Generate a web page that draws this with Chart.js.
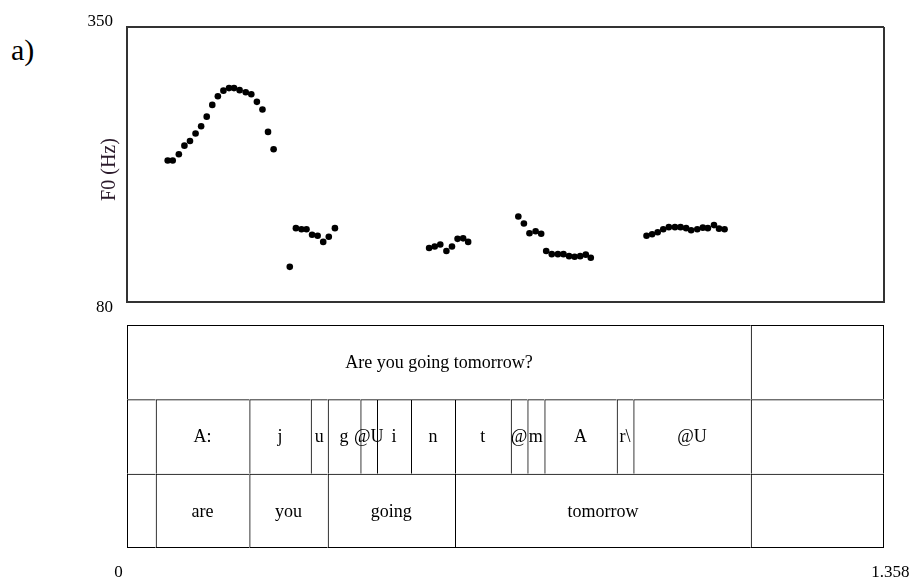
<!DOCTYPE html>
<html>
<head>
<meta charset="utf-8">
<script src="https://cdn.jsdelivr.net/npm/chart.js@4"></script>
<style>
  html, body { margin: 0; padding: 0; background: #fff; overflow: hidden; }
  #wrap { position: relative; width: 912px; height: 577px; }
  #wrap canvas { position: absolute; left: 0; top: 0; }
  #panel { position: absolute; left: 11px; top: 35px; font: 30px "Liberation Serif", "Times New Roman", serif; line-height: 30px; color: #000; }
</style>
</head>
<body>
<div id="wrap">
  <div id="panel">a)</div>
  <canvas id="f0Chart" width="912" height="577"></canvas>
  <canvas id="tierChart" width="912" height="577"></canvas>
</div>
<script>
/* F0 track (10 ms frames, five voiced stretches) + TextGrid tiers below */

const timeTicks = [0, 1.358];
const f0Ticks = [80, 350];

const frameTimes = [
  0.073, 0.082, 0.093, 0.103, 0.113, 0.123, 0.133, 0.143, 0.153, 0.163,
  0.173, 0.183, 0.192, 0.202, 0.213, 0.223, 0.233, 0.243, 0.253, 0.263,
  0.292, 0.303, 0.313, 0.322, 0.332, 0.342, 0.352, 0.362, 0.373,
  0.542, 0.552, 0.562, 0.573, 0.583, 0.593, 0.603, 0.612,
  0.702, 0.712, 0.722, 0.733, 0.743, 0.752, 0.762, 0.773, 0.783, 0.793, 0.803, 0.813, 0.823, 0.832,
  0.932, 0.942, 0.952, 0.962, 0.972, 0.983, 0.993, 1.003, 1.012, 1.023, 1.033, 1.042, 1.053, 1.062, 1.072
];
const f0Values = [
  219, 219, 225, 233.5, 238, 245.5, 252.5, 262, 273.5, 282,
  287.5, 290, 290, 288, 286, 284, 276.5, 269, 247, 230,
  114.5, 152.5, 151.5, 151.5, 146, 145, 139, 144, 152.5,
  133, 134.5, 136.5, 130, 134.5, 142, 142.5, 139,
  164, 157, 147.5, 149.5, 147, 130, 127, 127, 127, 125, 124.5, 125, 126.5, 123.5,
  145, 146.5, 148.5, 151.5, 153.5, 153.5, 153.5, 152.5, 150.5, 151.5, 153, 152.5, 155.5, 152, 151.5
];

const tierNames = ['sentence', 'phones', 'words'];
const sentenceBounds = [0, 1.119, 1.358];
const sentenceLabels = ['Are you going tomorrow?', ''];
const phoneBounds = [0, 0.0515, 0.2194, 0.3296, 0.3601, 0.4186, 0.4485, 0.5095, 0.5884, 0.6884, 0.7182, 0.7487, 0.8785, 0.9083, 1.119, 1.358];
const phoneLabels = ['', 'A:', 'j', 'u', 'g', '@U', 'i', 'n', 't', '@', 'm', 'A', 'r\\', '@U', ''];
const wordBounds = [0, 0.0515, 0.2194, 0.3601, 0.5884, 1.119, 1.358];
const wordLabels = ['', 'are', 'you', 'going', 'tomorrow', ''];

const SERIF = '"Liberation Serif", "Times New Roman", serif';
Chart.defaults.font.family = SERIF;
Chart.defaults.color = '#000';
const FRAME = '#333';

const onlyTicks = vals => scale => { scale.ticks = vals.map(v => ({ value: v })); };

/* ---- F0 plot ---- */
new Chart(document.getElementById('f0Chart'), {
  type: 'scatter',
  data: {
    datasets: [{
      data: frameTimes.map((t, i) => ({ x: t, y: f0Values[i] })),
      pointRadius: 3.3,
      pointBorderWidth: 0,
      pointBackgroundColor: '#000',
    }]
  },
  options: {
    responsive: false,
    animation: false,
    events: [],
    layout: { padding: { left: 67, right: 28, top: 27, bottom: 275 } },
    plugins: { legend: { display: false }, tooltip: { enabled: false } },
    scales: {
      x: {
        type: 'linear', min: timeTicks[0], max: timeTicks[1],
        afterBuildTicks: onlyTicks(timeTicks),
        afterFit: s => { s.height = 0; },
        ticks: { display: false },
        grid: { drawTicks: false, color: FRAME, lineWidth: 2 },
        border: { color: FRAME, width: 2 },
      },
      y: {
        min: f0Ticks[0], max: f0Ticks[1],
        afterBuildTicks: onlyTicks(f0Ticks),
        afterFit: s => { s.width = 60; },
        ticks: {
          padding: 14,
          font: { size: 17, lineHeight: 0.6 },
          callback: v => v === f0Ticks[1] ? [String(v), ''] : ['', String(v)],
        },
        grid: { drawTicks: false, color: FRAME, lineWidth: 2 },
        border: { color: FRAME, width: 2 },
        // trailing spaces nudge the rotated title a little lower, like the original
        title: { display: true, text: 'F0 (Hz)  ', color: '#2b1a2b', font: { size: 20 }, padding: { top: 31, bottom: 0 } },
      }
    }
  }
});

/* ---- annotation tiers ---- */
const toBars = (bounds, labels, tier) =>
  labels.map((txt, i) => ({ x: [bounds[i], bounds[i + 1]], y: tier, text: txt }));

const tierText = {
  id: 'tierText',
  afterDatasetsDraw(chart) {
    const ctx = chart.ctx;
    ctx.save();
    ctx.font = '18px ' + SERIF;
    ctx.fillStyle = '#000';
    ctx.textAlign = 'center';
    ctx.textBaseline = 'middle';
    chart.data.datasets.forEach((ds, di) => {
      chart.getDatasetMeta(di).data.forEach((bar, i) => {
        const { x, base, y } = bar.getProps(['x', 'base', 'y'], true);
        ctx.fillText(ds.data[i].text, (x + base) / 2, y + 1);
      });
    });
    ctx.restore();
  }
};

const tierSet = (bounds, labels, tier) => ({
  data: toBars(bounds, labels, tier),
  grouped: false,
  backgroundColor: 'rgba(0,0,0,0)',
  borderColor: '#000',
  borderSkipped: false,
  inflateAmount: 0,
  categoryPercentage: 1,
  barPercentage: 1,
  borderWidth: c => ({
    top: 1, left: 1,
    right: c.dataIndex === c.dataset.data.length - 1 ? 1 : 0,
    bottom: tier === 'words' ? 1 : 0,
  }),
});

new Chart(document.getElementById('tierChart'), {
  type: 'bar',
  data: {
    labels: tierNames,
    datasets: [
      tierSet(sentenceBounds, sentenceLabels, 'sentence'),
      tierSet(phoneBounds, phoneLabels, 'phones'),
      tierSet(wordBounds, wordLabels, 'words'),
    ]
  },
  options: {
    indexAxis: 'y',
    responsive: false,
    animation: false,
    events: [],
    layout: { padding: { left: 127, right: 28, top: 325, bottom: 0 } },
    plugins: { legend: { display: false }, tooltip: { enabled: false } },
    scales: {
      x: {
        type: 'linear', min: timeTicks[0], max: timeTicks[1],
        afterBuildTicks: onlyTicks(timeTicks),
        afterFit: s => { s.height = 29; s.paddingLeft = 0; s.paddingRight = 0; },
        ticks: {
          padding: 6, font: { size: 17 }, autoSkip: false, maxRotation: 0,
          // pad with spaces so the end labels sit just outside the box, as in the original
          callback: v => v === 0 ? String(v) + '    ' : '   ' + String(v),
        },
        grid: { display: false },
        border: { display: false },
      },
      y: { type: 'category', display: false, offset: true }
    }
  },
  plugins: [tierText]
});
</script>
</body>
</html>
